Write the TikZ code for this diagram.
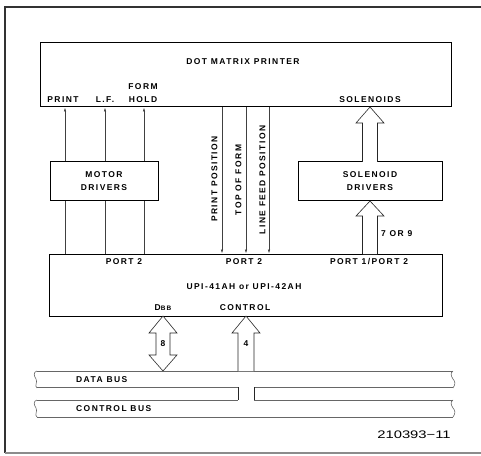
\documentclass[tikz,border=0pt]{standalone}
\usepackage{fontspec}
\setmainfont{Liberation Sans}
\newfontfamily\labfont{Liberation Sans}[LetterSpace=17]
\usetikzlibrary{arrows.meta,calc}
\tikzset{
  lab/.style={font=\labfont\bfseries\fontsize{8.5}{13}\selectfont, inner sep=0pt},
  box/.style={draw, line width=1bp, inner sep=0pt, align=center, lab},
  thin/.style={draw=black!75, line width=0.55bp},
  thinarr/.style={thin, -{Latex[length=4bp,width=2.4bp]}},
  fat/.style={draw=black!85, line width=0.6bp, fill=white},
  bus/.style={draw=black!60, line width=0.8bp},
}
\begin{document}
\begin{tikzpicture}[x=1bp,y=-1bp]
\useasboundingbox (0,0) rectangle (481,456);
% outer frame
\draw[line width=1.6bp, black!80] (481,7) -- (5,7) -- (5,453);
\draw[line width=1.2bp, black!45] (5,453) -- (481,453);

% boxes
\node[box, minimum width=410bp, minimum height=64bp] (pr) at (246,75) {};
\node[box, minimum width=108bp, minimum height=39bp] (mot) at (104,181.5) {MOTOR\\DRIVERS};
\node[box, minimum width=144bp, minimum height=39bp] (sol) at (370,181.5) {SOLENOID\\DRIVERS};
\node[box, minimum width=392bp, minimum height=62bp] (upi) at (246,285) {};

% printer labels
\node[lab] (prt) at (243,62) {DOT MATRIX PRINTER};
\node[lab] (lprint) at (63,100) {PRINT};
\node[lab] (llf) at (105,100) {L.F.};
\node[lab] (lform) at (143,87) {FORM};
\node[lab] (lhold) at (143,100) {HOLD};
\node[lab] (lsol) at (370,100) {SOLENOIDS};

% UPI labels
\node[lab] (p2a) at (124,262) {PORT 2};
\node[lab] (p2b) at (244,262) {PORT 2};
\node[lab] (p12) at (369,262) {PORT 1/PORT 2};
\node[lab] (upit) at (244,287) {UPI-41AH or UPI-42AH};
\node[lab] (ldbb) at (163,308) {D{\fontsize{6.5}{7}\selectfont BB}};
\node[lab] (lctl) at (245,308) {CONTROL};

% motor connectors
\foreach \xx [count=\i] in {65,105,144} {
  \coordinate (m\i) at (\xx,0);
  \draw[thinarr] (mot.north -| m\i) -- (pr.south -| m\i);
  \draw[thin] (upi.north -| m\i) -- (mot.south -| m\i);
}

% middle connectors
\foreach \xx [count=\i] in {222,246,269} {
  \coordinate (c\i) at (\xx,0);
  \draw[thinarr] (pr.south -| c\i) -- (upi.north -| c\i);
}
\node[lab, rotate=90] (lpp) at (214.5,179) {PRINT POSITION};
\node[lab, rotate=90] (ltf) at (238.5,180) {TOP OF FORM};
\node[lab, rotate=90] (llfp) at (262.5,180) {LINE FEED POSITION};

% fat arrow: solenoid drivers -> printer
\path[fat] (362.5,162) -- (362.5,123) -- (356,123) -- (370,107) -- (384,123) -- (377.5,123) -- (377.5,162);
% fat arrow: UPI -> solenoid drivers
\path[fat] (362.5,254) -- (362.5,216) -- (356,216) -- (370,201) -- (384,216) -- (377.5,216) -- (377.5,254);
\node[lab, anchor=west] (l79) at (381,234) {7 OR 9};

% buses
\draw[bus] (37,371) -- (453,371);
\draw[bus] (37,387) -- (238,387);
\draw[bus] (254,387) -- (453,387);
\draw[bus] (37,400) -- (238,400);
\draw[bus] (254,400) -- (453,400);
\draw[bus] (37,417) -- (453,417);
\foreach \yy in {371,400} {
  \draw[bus, line width=0.6bp] (37,\yy) .. controls (33,\yy+1) and (34,\yy+5) .. (36,\yy+8)
     .. controls (38,\yy+11) and (34,\yy+15) .. (37,\yy+16+\yy/400);
  \draw[bus, line width=0.6bp] (453,\yy) .. controls (450,\yy+2) and (451,\yy+5) .. (453,\yy+8)
     .. controls (456,\yy+11) and (455,\yy+14) .. (453,\yy+16+\yy/400);
}
\node[lab, anchor=west] (ldata) at (76,380) {DATA BUS};
\node[lab, anchor=west] (lcbus) at (76,409) {CONTROL BUS};

% double arrow 8 (UPI DBB <-> data bus)
\path[fat] (163,316) -- (177,333) -- (170,333) -- (170,355) -- (177,355) -- (163,371)
  -- (149,355) -- (156,355) -- (156,333) -- (149,333) -- cycle;
\node[lab] (l8) at (163,344) {8};

% control arrow 4
\path[fat] (238,371) -- (238,333) -- (232,333) -- (246,316) -- (260,333) -- (254,333) -- (254,371);
\draw[fat] (238,387) -- (238,400);
\draw[fat] (254,387) -- (254,400);
\node[lab] (l4) at (246,344) {4};

% figure number
\node[inner sep=0pt] (fig) at (414,435) {\scalebox{1.35}[1]{\fontsize{11}{12}\selectfont 210393\textminus 11}};
\end{tikzpicture}
\end{document}
